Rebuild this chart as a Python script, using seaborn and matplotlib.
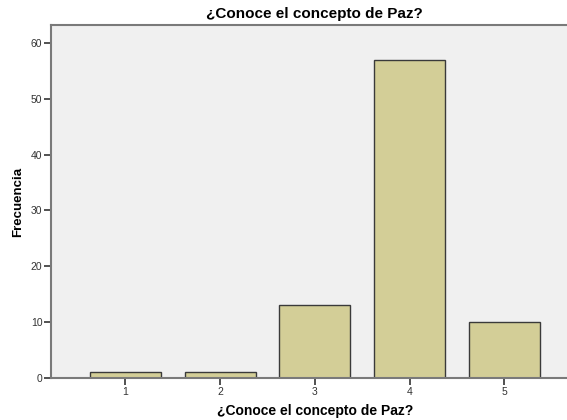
import matplotlib
matplotlib.use("Agg")
import matplotlib.pyplot as plt
import seaborn as sns
import pandas as pd

# --- data ---
categorias = ["1", "2", "3", "4", "5"]
frecuencias = [1, 1, 13, 57, 10]

titulo = "¿Conoce el concepto de Paz?"

sns.set_theme(style="white")
plt.rcParams['font.family'] = ['Liberation Sans', 'DejaVu Sans']

df = pd.DataFrame({"categoria": categorias, "frecuencia": frecuencias})

fig = plt.figure(figsize=(5.67, 4.2), dpi=100)
ax = fig.add_axes([0.0908, 0.1, 0.929, 0.8405])
ax.set_facecolor("#F0F0F0")

sns.barplot(data=df, x="categoria", y="frecuencia", color="#D3CE97",
            saturation=1, width=0.75, edgecolor="#3a3a3a", linewidth=1.0, ax=ax)

ax.set_xlim(-0.781, 4.781)
ax.set_ylim(0, 63.2)
ax.set_yticks([0, 10, 20, 30, 40, 50, 60])

for side in ["left", "bottom", "top"]:
    ax.spines[side].set_color("#7a7a7a")
    ax.spines[side].set_linewidth(1.5)
ax.spines["right"].set_visible(False)

ax.tick_params(axis="both", direction="out", length=5, width=1.2, color="#333333",
               labelsize=7.5, labelcolor="#333333", pad=1.5, left=True, bottom=True)

ax.set_xlabel(titulo, fontsize=10, fontweight="bold", color="black", labelpad=5)
ax.set_ylabel("Frecuencia", fontsize=9.5, fontweight="bold", color="black", labelpad=5)
ax.set_title(titulo, fontsize=11, fontweight="bold", color="black", pad=5)

fig.savefig("out.png", dpi=100)
